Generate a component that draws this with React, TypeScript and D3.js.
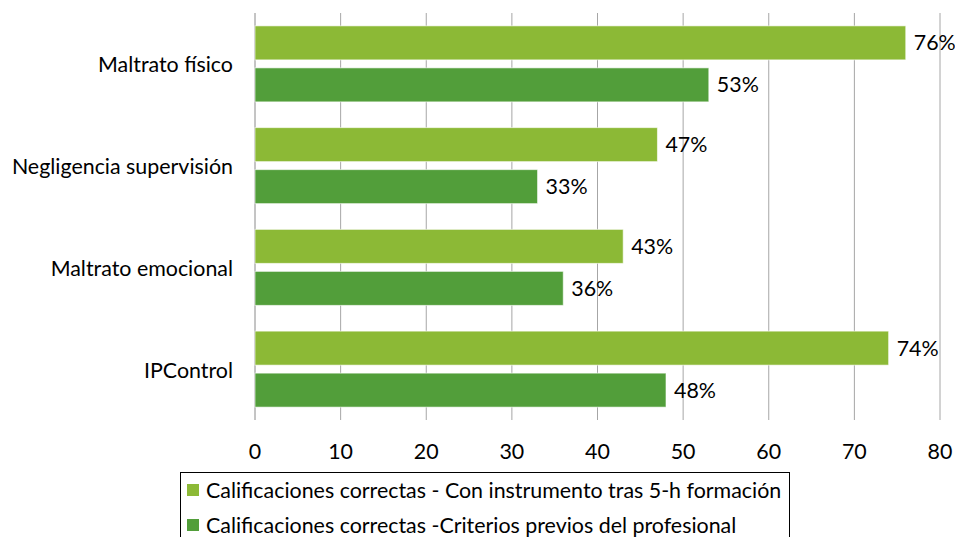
import { scaleLinear, scaleBand } from "d3";

const categories = ["Maltrato físico", "Negligencia supervisión", "Maltrato emocional", "IPControl"];
const withInstrument = [76, 47, 43, 74];
const priorCriteria = [53, 33, 36, 48];
const xTicks = [0, 10, 20, 30, 40, 50, 60, 70, 80];
const seriesNames = [
  "Calificaciones correctas - Con instrumento tras 5-h formación",
  "Calificaciones correctas -Criterios previos del profesional",
];
const colors = ["#8cb936", "#529e3a"];

const W = 955;
const H = 537;
const PLOT = { left: 255, right: 940, top: 13, bottom: 420 };
const FONT = "Lato, 'Open Sans', sans-serif";
const FS = 21.4;

export default function App() {
  const x = scaleLinear().domain([0, 80]).range([PLOT.left, PLOT.right]);
  const y = scaleBand().domain(categories).range([PLOT.top, PLOT.bottom]).paddingInner(0).paddingOuter(0);
  const step = y.bandwidth();
  const barH = 34;
  const gap = 8;
  const pad = (step - 2 * barH - gap) / 2;

  const series = [withInstrument, priorCriteria];

  return (
    <div style={{ position: "fixed", left: 0, top: 0 }}>
      <svg width={W} height={H} style={{ display: "block", background: "white" }} fontFamily={FONT}>
        {xTicks.map((t) => (
          <g key={t}>
            <line
              x1={x(t)}
              x2={x(t)}
              y1={PLOT.top}
              y2={PLOT.bottom}
              stroke={t === 0 ? "#8a8a8a" : "#a6a6a6"}
              strokeWidth={1}
            />
            <text x={x(t)} y={452} dy="0.35em" textAnchor="middle" fontSize={FS} fill="#000">
              {t}
            </text>
          </g>
        ))}

        {categories.map((c, ci) => {
          const y0 = (y(c) ?? 0) + pad;
          return (
            <g key={c}>
              <text
                x={233}
                y={(y(c) ?? 0) + step / 2 + 1}
                dy="0.35em"
                textAnchor="end"
                fontSize={FS}
                fill="#000"
              >
                {c}
              </text>
              {series.map((s, si) => {
                const by = y0 + si * (barH + gap);
                return (
                  <g key={si}>
                    <rect
                      x={x(0)}
                      y={by}
                      width={x(s[ci]) - x(0)}
                      height={barH}
                      fill={colors[si]}
                      stroke="#ffffff"
                      strokeOpacity={0.6}
                      strokeWidth={1}
                    />
                    <text x={x(s[ci]) + 8} y={by + barH / 2} dy="0.35em" fontSize={FS} fill="#000">
                      {s[ci]}%
                    </text>
                  </g>
                );
              })}
            </g>
          );
        })}

        <rect x={180.5} y={472.5} width={609} height={80} fill="white" stroke="#000" strokeWidth={1} />
        {seriesNames.map((n, i) => (
          <g key={n}>
            <rect x={187} y={484 + i * 35} width={12} height={12} fill={colors[i]} />
            <text x={206} y={490.5 + i * 35} dy="0.35em" fontSize={FS} fill="#000">
              {n}
            </text>
          </g>
        ))}
      </svg>
    </div>
  );
}
